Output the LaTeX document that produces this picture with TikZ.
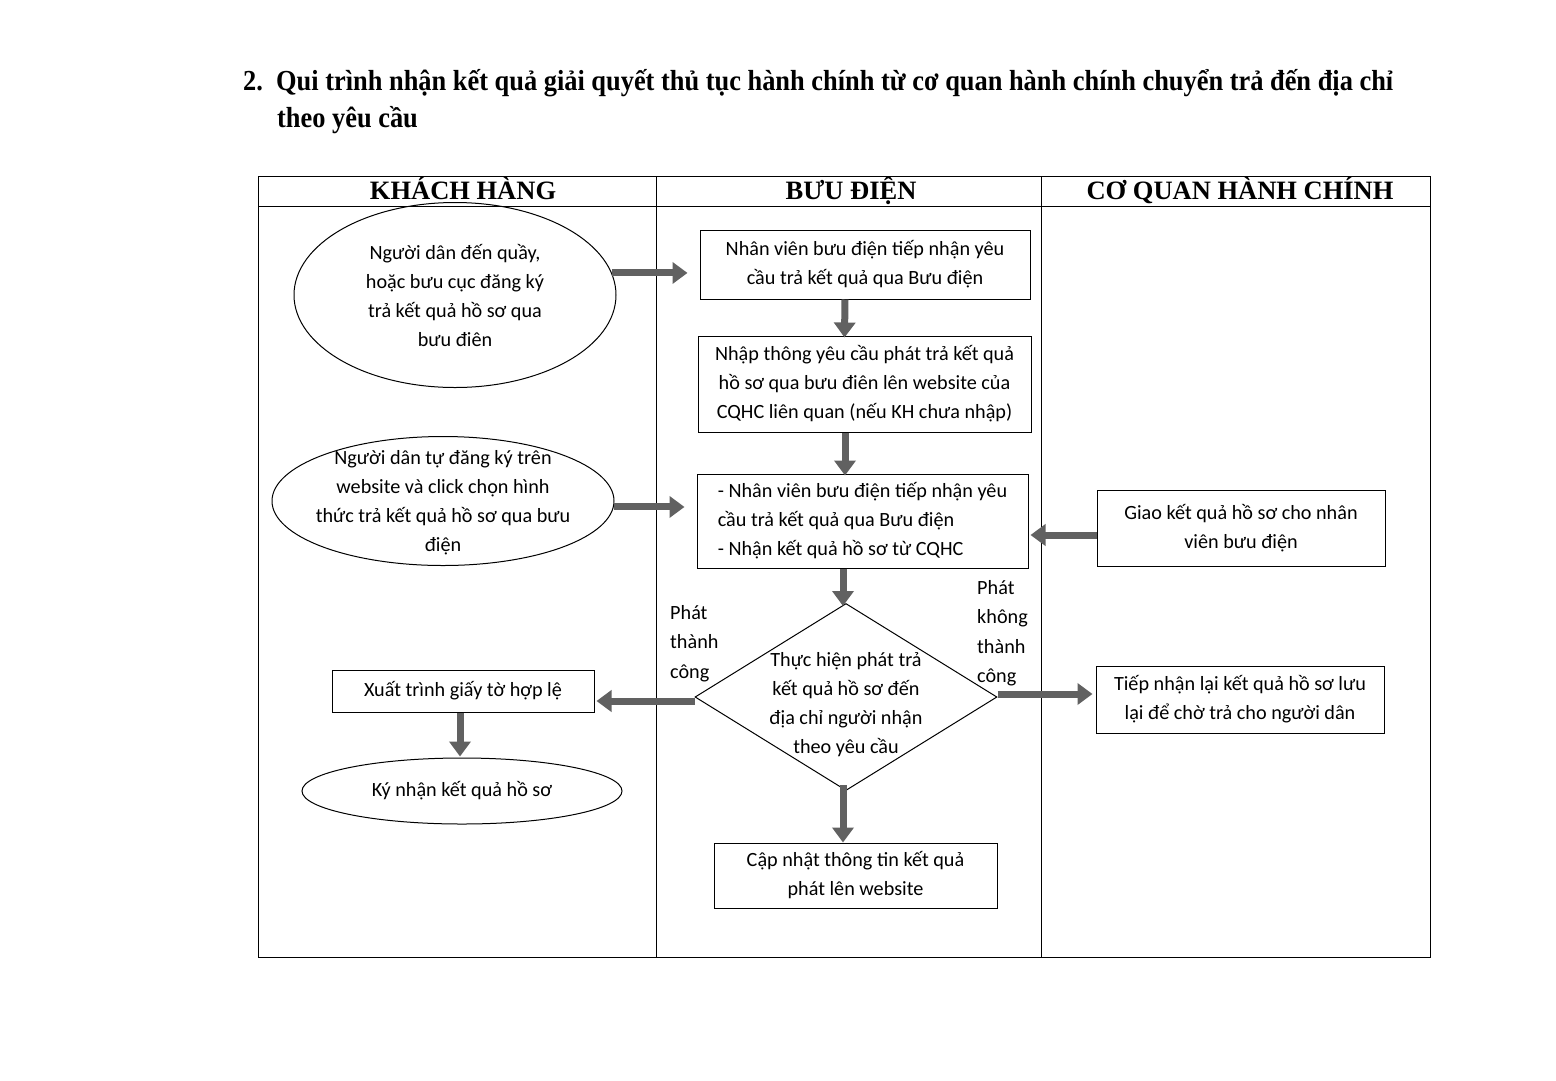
\documentclass[tikz,border=0pt]{standalone}
\usepackage{fontspec}
\setmainfont{Carlito}
\newfontfamily\hdfont{Liberation Serif}
\newfontfamily\ttlfont[FakeStretch=0.91]{Liberation Serif}
\usetikzlibrary{shapes.geometric,arrows.meta}
\begin{document}
\begin{tikzpicture}[x=1pt,y=-1pt,
  every node/.style={font=\fontsize{20.2}{29}\selectfont},
  boxn/.style={draw,line width=1pt,rectangle,align=center,inner sep=0pt},
  elln/.style={draw,line width=1pt,ellipse,align=center,inner sep=0pt},
  hdr/.style={anchor=base,inner sep=0pt,font=\hdfont\bfseries\fontsize{26.5}{30}\selectfont},
  lbl/.style={align=left,anchor=north west,inner sep=0pt,font=\fontsize{20.2}{29.5}\selectfont},
  blk/.style={line width=7pt,draw=black!62,-{Triangle[width=21pt,length=15pt]}},
]
\useasboundingbox[fill=white] (0,0) rectangle (1556,1080);
% title
\node[anchor=base west,inner sep=0pt,font=\ttlfont\bfseries\fontsize{29}{32}\selectfont] (t1) at (243,90)
  {2.\ \ Qui trình nhận kết quả giải quyết thủ tục hành chính từ cơ quan hành chính chuyển trả đến địa chỉ};
\node[anchor=base west,inner sep=0pt,font=\ttlfont\bfseries\fontsize{29}{32}\selectfont] (t2) at (277,127)
  {theo yêu cầu};
% table
\draw[line width=1pt] (258,176) rectangle (1430,957);
\draw[line width=1pt] (258,206) -- (1430,206);
\draw[line width=1pt] (656,176) -- (656,957);
\draw[line width=1pt] (1041,176) -- (1041,957);
\node[hdr] (h1) at (463,199) {KHÁCH HÀNG};
\node[hdr] (h2) at (851,199) {BƯU ĐIỆN};
\node[hdr] (h3) at (1240,199) {CƠ QUAN HÀNH CHÍNH};
% nodes
\node[elln,minimum width=322pt,minimum height=185pt] (E1) at (455,295)
  {Người dân đến quầy,\\hoặc bưu cục đăng ký\\trả kết quả hồ sơ qua\\bưu điên};
\node[boxn,minimum width=330pt,minimum height=69pt] (B1) at (865,264.5)
  {Nhân viên bưu điện tiếp nhận yêu\\cầu trả kết quả qua Bưu điện};
\node[boxn,minimum width=333pt,minimum height=96pt] (B2) at (864.5,384)
  {Nhập thông yêu cầu phát trả kết quả\\hồ sơ qua bưu điên lên website của\\CQHC liên quan (nếu KH chưa nhập)};
\node[elln,minimum width=342pt,minimum height=129pt] (E2) at (443,501) {};
\node[align=center,inner sep=0pt] (E2t) at (443,503)
  {Người dân tự đăng ký trên\\website và click chọn hình\\thức trả kết quả hồ sơ qua bưu\\điện};
\node[boxn,minimum width=331pt,minimum height=94pt,align=left] (B3) at (862.5,521)
  {- Nhân viên bưu điện tiếp nhận yêu\\cầu trả kết quả qua Bưu điện\\- Nhận kết quả hồ sơ từ CQHC};
\node[boxn,minimum width=288pt,minimum height=76pt] (C1) at (1241,528)
  {Giao kết quả hồ sơ cho nhân\\viên bưu điện};
\node[draw,line width=1pt,diamond,inner sep=0pt,minimum width=302pt,minimum height=187pt] (D) at (846,697) {};
\node[align=center,inner sep=0pt] (Dt) at (846,705)
  {Thực hiện phát trả\\kết quả hồ sơ đến\\địa chỉ người nhận\\theo yêu cầu};
\node[boxn,minimum width=262pt,minimum height=42pt] (K3) at (463,691)
  {Xuất trình giấy tờ hợp lệ};
\node[elln,minimum width=320pt,minimum height=66pt] (K4) at (462,791)
  {Ký nhận kết quả hồ sơ};
\node[boxn,minimum width=288pt,minimum height=67pt] (C2) at (1240,699.5)
  {Tiếp nhận lại kết quả hồ sơ lưu\\lại để chờ trả cho người dân};
\node[boxn,minimum width=283pt,minimum height=65pt] (B4) at (855.5,875.5)
  {Cập nhật thông tin kết quả\\phát lên website};
% labels
\node[lbl] (L1) at (670,605) {Phát\\thành\\công};
\node[lbl] (L2) at (977,580) {Phát\\không\\thành\\công};
% arrows
\draw[blk,shorten >=12pt] (E1.8) -- (E1.8 -| B1.west);
\draw[blk] ([xshift=-20pt]B1.south) -- ([xshift=-20pt,yshift=-2pt]B2.north);
\draw[blk] ([xshift=-19.5pt]B2.south) -- ([xshift=-17.5pt,yshift=-2pt]B3.north);
\draw[blk,shorten >=12pt] (E2.-2) -- (E2.-2 -| B3.west);
\draw[blk,shorten >=2pt] ([yshift=-7pt]C1.west) -- ([yshift=-7pt]C1.west -| B3.east);
\draw[blk] ([xshift=-3pt]B3.south -| D.north) -- ([xshift=-3pt,yshift=-3pt]D.north);
\draw[blk,shorten >=2pt] ([yshift=-4pt]D.west) -- ([yshift=-4pt]D.west -| K3.east);
\draw[blk,shorten >=3pt] ([yshift=3pt]D.east) -- ([yshift=3pt]D.east -| C2.west);
\draw[blk,shorten >=1pt] ([xshift=-3pt]K3.south) -- ([xshift=-2pt]K4.north);
\draw[blk] ([xshift=-3pt,yshift=6pt]D.south) -- ([xshift=-3pt]D.south |- B4.north);
\end{tikzpicture}
\end{document}
